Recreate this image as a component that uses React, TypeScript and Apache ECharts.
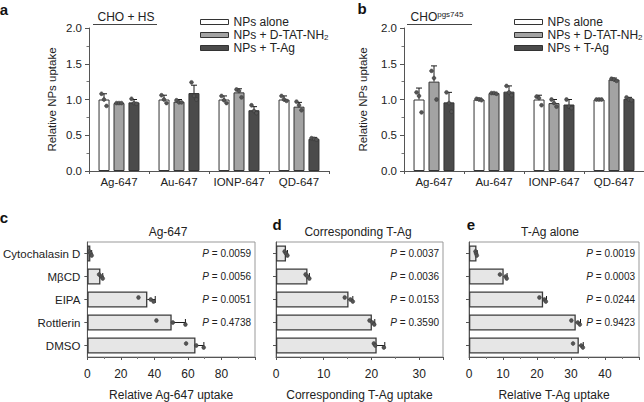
import React, { useEffect, useRef } from "react";
import * as echarts from "echarts";

const FONT = "'Liberation Sans', Arial, Helvetica, sans-serif";
const TXT = "#222";

// Panels a / b
const groups = ["Ag-647", "Au-647", "IONP-647", "QD-647"];
const seriesNames = ["NPs alone", "NPs + D-TAT-NH2", "NPs + T-Ag"];
const fills = ["#ffffff", "#a3a3a3", "#4b4b4b"];
const yTicksAB = [0, 0.5, 1.0, 1.5, 2.0];

const aAlone = [1.0, 1.0, 1.0, 1.0];
const aDtat = [0.95, 0.97, 1.1, 0.9];
const aTag = [0.96, 1.09, 0.85, 0.45];
const aAloneErr = [1.08, 1.06, 1.05, 1.05];
const aDtatErr = [0.96, 1.0, 1.15, 0.96];
const aTagErr = [1.0, 1.2, 0.9, 0.47];
const aAlonePts = [[1.08, 1.0, 0.91], [1.06, 1.0, 0.95], [1.05, 0.99, 0.95], [1.05, 1.0, 0.98]];
const aDtatPts = [[0.95, 0.95, 0.95], [0.99, 0.96, 0.96], [1.14, 1.12, 1.03], [0.97, 0.92, 0.85]];
const aTagPts = [[1.01, 0.95, 0.94], [1.24, 1.05, 1.0], [0.92, 0.84, 0.81], [0.46, 0.45, 0.44]];

const bAlone = [1.0, 1.0, 1.0, 1.0];
const bDtat = [1.25, 1.09, 0.95, 1.28];
const bTag = [0.96, 1.11, 0.93, 1.01];
const bAloneErr = [1.16, 1.02, 1.06, 1.01];
const bDtatErr = [1.47, 1.1, 1.0, 1.3];
const bTagErr = [1.1, 1.19, 1.0, 1.03];
const bAlonePts = [[1.1, 1.05, 0.82], [1.01, 1.0, 0.99], [1.04, 1.02, 0.92], [1.0, 1.0, 1.0]];
const bDtatPts = [[1.4, 1.3, 1.0], [1.09, 1.09, 1.08], [1.0, 0.95, 0.9], [1.29, 1.28, 1.26]];
const bTagPts = [[1.1, 0.95, 0.83], [1.19, 1.1, 1.06], [1.0, 0.9, 0.88], [1.03, 1.0, 0.99]];

// Panels c / d / e
const treatments = ["Cytochalasin D", "M\u03b2CD", "EIPA", "Rottlerin", "DMSO"];

const cMean = [1.8, 7.8, 35.8, 50.3, 64.5];
const cErr = [2.6, 9.2, 40.5, 58.5, 69.5];
const cPts = [[1.2, 2.0, 2.6], [7.0, 8.5, 9.2], [30.5, 37.8, 39.5], [41.2, 51.0, 58.5], [58.9, 65.0, 69.4]];
const cP = ["0.0059", "0.0056", "0.0051", "0.4738"];

const dMean = [2.1, 6.6, 15.2, 20.1, 21.1];
const dErr = [2.4, 7.0, 16.1, 20.7, 22.8];
const dPts = [[1.8, 2.1, 2.4], [6.2, 6.6, 7.0], [14.4, 15.6, 16.1], [19.6, 20.2, 20.6], [20.5, 20.8, 22.6]];
const dP = ["0.0037", "0.0036", "0.0153", "0.3590"];

const eMean = [2.2, 10.2, 21.8, 31.4, 32.3];
const eErr = [2.4, 11.2, 22.8, 32.8, 33.6];
const ePts = [[1.9, 2.1, 2.3], [9.1, 10.8, 11.1], [20.7, 22.2, 22.6], [30.1, 32.0, 32.6], [30.6, 33.0, 33.5]];
const eP = ["0.0019", "0.0003", "0.0244", "0.9423"];

const vJit = [-2.5, 0, 2.5];
const hJit = [-2, 0, 2];

function vErrData(means: number[][], errs: number[][], pts: number[][][]) {
  const out: number[][] = [];
  for (let s = 0; s < 3; s++) {
    for (let c = 0; c < groups.length; c++) {
      out.push([c, s, means[s][c], errs[s][c], ...pts[s][c]]);
    }
  }
  return out;
}

function vErrSeries(idx: number, data: number[][]) {
  return {
    type: "custom",
    xAxisIndex: idx,
    yAxisIndex: idx,
    encode: { x: 0, y: [2, 3, 4, 5, 6] },
    z: 5,
    data,
    renderItem: (params: any, api: any) => {
      const c = api.value(0);
      const s = api.value(1);
      const b = api.coord([c, api.value(2)]);
      const t = api.coord([c, api.value(3)]);
      const x = b[0] + (s - 1) * 15;
      const children: any[] = [
        { type: "line", shape: { x1: x, y1: b[1], x2: x, y2: t[1] }, style: { stroke: "#1a1a1a", lineWidth: 1 } },
        { type: "line", shape: { x1: x - 3, y1: t[1], x2: x + 3, y2: t[1] }, style: { stroke: "#1a1a1a", lineWidth: 1 } },
      ];
      for (let k = 0; k < 3; k++) {
        const p = api.coord([c, api.value(4 + k)]);
        children.push({ type: "circle", shape: { cx: x + vJit[k], cy: p[1], r: 1.9 }, style: { fill: "#555", stroke: "#333", lineWidth: 0.5 } });
      }
      return { type: "group", children };
    },
  };
}

function hErrSeries(idx: number, means: number[], errs: number[], pts: number[][]) {
  return {
    type: "custom",
    xAxisIndex: idx,
    yAxisIndex: idx,
    encode: { x: [1, 2, 3, 4, 5], y: 0 },
    z: 5,
    data: means.map((m, c) => [c, m, errs[c], ...pts[c]]),
    renderItem: (params: any, api: any) => {
      const c = api.value(0);
      const b = api.coord([api.value(1), c]);
      const e = api.coord([api.value(2), c]);
      const children: any[] = [
        { type: "line", shape: { x1: b[0], y1: b[1], x2: e[0], y2: b[1] }, style: { stroke: "#1a1a1a", lineWidth: 1 } },
        { type: "line", shape: { x1: e[0], y1: b[1] - 3.5, x2: e[0], y2: b[1] + 3.5 }, style: { stroke: "#1a1a1a", lineWidth: 1 } },
      ];
      for (let k = 0; k < 3; k++) {
        const p = api.coord([api.value(3 + k), c]);
        children.push({ type: "circle", shape: { cx: p[0], cy: p[1] + hJit[k], r: 1.9 }, style: { fill: "#555", stroke: "#333", lineWidth: 0.5 } });
      }
      return { type: "group", children };
    },
  };
}

function pSeries(idx: number, xmax: number, pv: string[]) {
  return {
    type: "custom",
    xAxisIndex: idx,
    yAxisIndex: idx,
    encode: { x: 0, y: 1 },
    z: 6,
    data: pv.map((_, c) => [xmax, c]),
    renderItem: (params: any, api: any) => {
      const pos = api.coord([api.value(0), api.value(1)]);
      return {
        type: "text",
        x: pos[0] - 4,
        y: pos[1],
        style: {
          text: "{i|P} = " + pv[params.dataIndex],
          align: "right",
          verticalAlign: "middle",
          fill: TXT,
          fontSize: 10,
          fontFamily: FONT,
          rich: { i: { fontStyle: "italic", fontSize: 10, fontFamily: FONT, fill: TXT } },
        },
      };
    },
  };
}

function barSeries(idx: number, name: string, data: number[], fill: string) {
  return {
    type: "bar",
    name,
    xAxisIndex: idx,
    yAxisIndex: idx,
    data,
    barWidth: 11,
    barGap: "36%",
    itemStyle: { color: fill, borderColor: "#333", borderWidth: 1 },
  };
}

function hBarSeries(idx: number, data: number[]) {
  return {
    type: "bar",
    xAxisIndex: idx,
    yAxisIndex: idx,
    data,
    barWidth: 16,
    itemStyle: { color: "#e6e6e6", borderColor: "#3a3a3a", borderWidth: 1.3 },
  };
}

const axisLineStyle = { lineStyle: { color: "#555", width: 1 } };
const labelStyle = { color: TXT, fontSize: 11.5, fontFamily: FONT };

function catAxisAB(idx: number) {
  return {
    type: "category",
    gridIndex: idx,
    data: groups,
    axisLine: axisLineStyle,
    axisTick: { show: true, length: 3, lineStyle: { color: "#555" } },
    axisLabel: { ...labelStyle, margin: 5, interval: 0 },
  };
}

function valAxisAB(idx: number, gap: number) {
  return {
    type: "value",
    gridIndex: idx,
    min: yTicksAB[0],
    max: yTicksAB[yTicksAB.length - 1],
    interval: 0.5,
    name: "Relative NPs uptake",
    nameLocation: "middle",
    nameGap: gap,
    nameTextStyle: { ...labelStyle },
    axisLine: { show: true, ...axisLineStyle },
    axisTick: { show: true, length: 4, lineStyle: { color: "#555" } },
    minorTick: { show: true, splitNumber: 2, length: 2.5, lineStyle: { color: "#777" } },
    splitLine: { show: false },
    axisLabel: { ...labelStyle, margin: 7, formatter: (v: number) => v.toFixed(1) },
  };
}

function valAxisH(idx: number, max: number, interval: number, name: string) {
  return {
    type: "value",
    gridIndex: idx,
    min: 0,
    max,
    interval,
    name,
    nameLocation: "middle",
    nameGap: 32,
    nameTextStyle: { ...labelStyle, fontSize: 12 },
    axisLine: { show: true, ...axisLineStyle },
    axisTick: { show: true, length: 3, lineStyle: { color: "#555" } },
    minorTick: { show: true, splitNumber: 2, length: 2, lineStyle: { color: "#777" } },
    splitLine: { show: false },
    axisLabel: { ...labelStyle, fontSize: 12, margin: 11, showMaxLabel: false },
  };
}

function catAxisH(idx: number, showLabels: boolean) {
  return {
    type: "category",
    gridIndex: idx,
    data: treatments,
    inverse: true,
    axisLine: { show: true, ...axisLineStyle },
    axisTick: { show: true, alignWithLabel: true, length: 3, lineStyle: { color: "#555" } },
    axisLabel: { ...labelStyle, show: showLabels, margin: 7, interval: 0 },
  };
}

const legendRich = {
  sub: { fontSize: 8, fontFamily: FONT, color: TXT, verticalAlign: "bottom", lineHeight: 12 },
};

function legendAt(left: number) {
  return {
    left,
    top: 11,
    orient: "vertical",
    itemWidth: 28,
    itemHeight: 5,
    itemGap: 1,
    icon: "rect",
    selectedMode: false,
    data: seriesNames.map((n, i) => ({
      name: n,
      itemStyle: { color: fills[i], borderColor: "#333", borderWidth: 1 },
    })),
    formatter: (n: string) => (n === "NPs + D-TAT-NH2" ? "NPs + D-TAT-NH{sub|2}" : n),
    textStyle: { color: TXT, fontSize: 12, fontFamily: FONT, rich: legendRich },
  };
}

function txt(x: number, y: number, text: string, opts: any = {}) {
  return {
    type: "text",
    x,
    y,
    style: {
      text,
      fill: TXT,
      fontSize: 12,
      fontFamily: FONT,
      align: "center",
      verticalAlign: "middle",
      ...opts,
    },
  };
}

function hline(x1: number, x2: number, y: number) {
  return { type: "line", shape: { x1, y1: y, x2, y2: y }, style: { stroke: "#444", lineWidth: 1 } };
}

export default function App() {
  const ref = useRef<HTMLDivElement>(null);
  useEffect(() => {
    document.body.style.margin = "0";
    const chart = echarts.init(ref.current!, null, { renderer: "svg" });
    const option: any = {
      animation: false,
      backgroundColor: "#ffffff",
      textStyle: { fontFamily: FONT },
      grid: [
        { left: 89, top: 28, width: 240, height: 143 },
        { left: 404, top: 28, width: 240, height: 143 },
        { left: 87, top: 242, width: 168, height: 115, show: true, borderColor: "#999", borderWidth: 1 },
        { left: 276, top: 242, width: 167, height: 115, show: true, borderColor: "#999", borderWidth: 1 },
        { left: 469, top: 242, width: 170, height: 115, show: true, borderColor: "#999", borderWidth: 1 },
      ],
      xAxis: [
        catAxisAB(0),
        catAxisAB(1),
        valAxisH(2, 100, 20, "Relative Ag-647 uptake"),
        valAxisH(3, 35, 10, "Corresponding T-Ag uptake"),
        valAxisH(4, 50, 10, "Relative T-Ag uptake"),
      ],
      yAxis: [valAxisAB(0, 31), valAxisAB(1, 35), catAxisH(2, true), catAxisH(3, false), catAxisH(4, false)],
      legend: [legendAt(195), legendAt(509)],
      series: [
        barSeries(0, seriesNames[0], aAlone, fills[0]),
        barSeries(0, seriesNames[1], aDtat, fills[1]),
        barSeries(0, seriesNames[2], aTag, fills[2]),
        vErrSeries(0, vErrData([aAlone, aDtat, aTag], [aAloneErr, aDtatErr, aTagErr], [aAlonePts, aDtatPts, aTagPts])),
        barSeries(1, seriesNames[0], bAlone, fills[0]),
        barSeries(1, seriesNames[1], bDtat, fills[1]),
        barSeries(1, seriesNames[2], bTag, fills[2]),
        vErrSeries(1, vErrData([bAlone, bDtat, bTag], [bAloneErr, bDtatErr, bTagErr], [bAlonePts, bDtatPts, bTagPts])),
        hBarSeries(2, cMean),
        hErrSeries(2, cMean, cErr, cPts),
        pSeries(2, 100, cP),
        hBarSeries(3, dMean),
        hErrSeries(3, dMean, dErr, dPts),
        pSeries(3, 35, dP),
        hBarSeries(4, eMean),
        hErrSeries(4, eMean, eErr, ePts),
        pSeries(4, 50, eP),
      ],
      graphic: [
        txt(4, 9, "a", { fontSize: 15, fontWeight: "bold", fill: "#111" }),
        txt(362, 8, "b", { fontSize: 15, fontWeight: "bold", fill: "#111" }),
        txt(4, 217, "c", { fontSize: 15, fontWeight: "bold", fill: "#111" }),
        txt(277, 224, "d", { fontSize: 15, fontWeight: "bold", fill: "#111" }),
        txt(471, 224, "e", { fontSize: 15, fontWeight: "bold", fill: "#111" }),
        txt(126, 17, "CHO + HS"),
        hline(93, 157, 24.5),
        txt(437, 17, "CHO{sup|pgs745}", {
          rich: { sup: { fontSize: 8, fontFamily: FONT, fill: TXT, verticalAlign: "top", lineHeight: 14 } },
        }),
        hline(407, 472, 24.5),
        txt(168, 232, "Ag-647"),
        txt(358, 232, "Corresponding T-Ag"),
        txt(550, 232, "T-Ag alone"),
      ],
    };
    chart.setOption(option);
    return () => chart.dispose();
  }, []);
  return <div ref={ref} style={{ width: 644, height: 402 }} />;
}
